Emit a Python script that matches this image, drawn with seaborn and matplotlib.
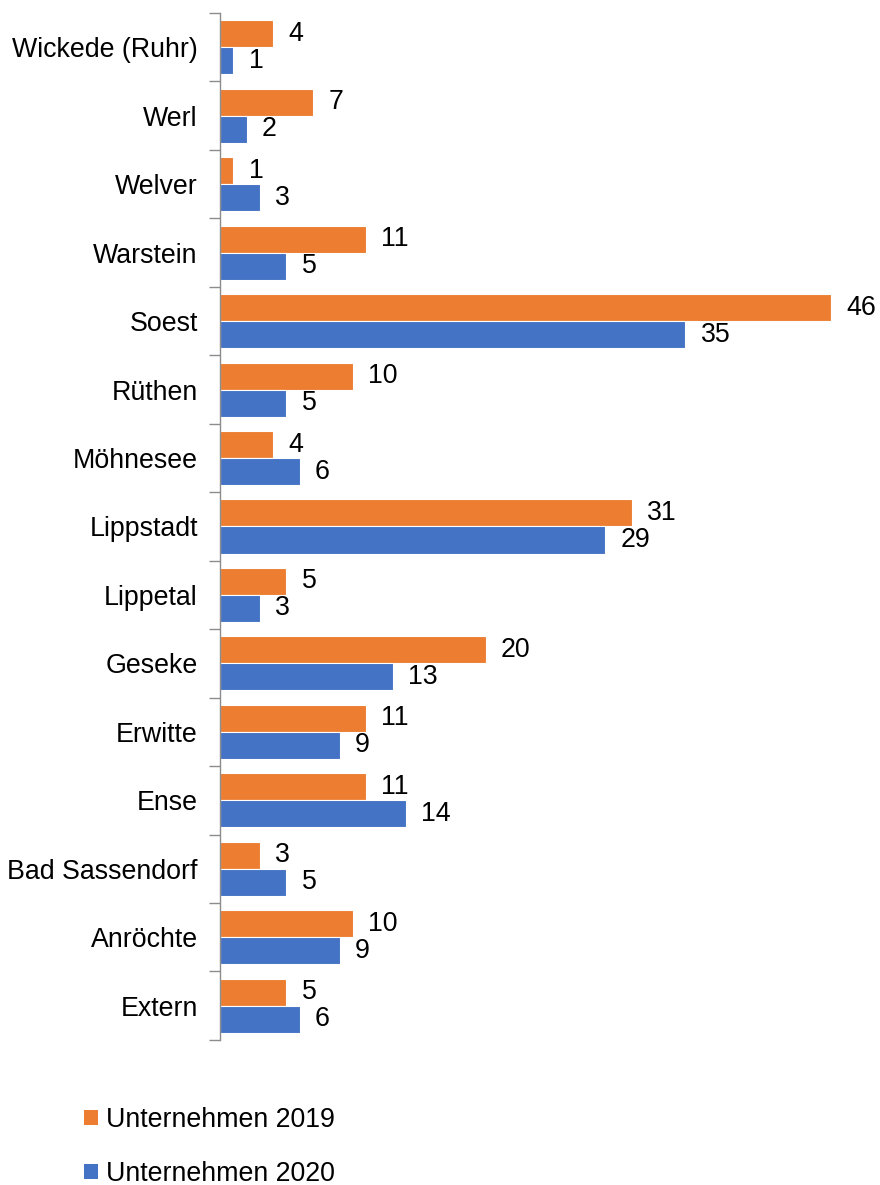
import numpy as np
import pandas as pd
import matplotlib
matplotlib.use("Agg")
import matplotlib.pyplot as plt
import seaborn as sns
from matplotlib.patches import Patch
from matplotlib.ticker import FixedLocator

orte = ["Wickede (Ruhr)", "Werl", "Welver", "Warstein", "Soest", "Rüthen",
        "Möhnesee", "Lippstadt", "Lippetal", "Geseke", "Erwitte", "Ense",
        "Bad Sassendorf", "Anröchte", "Extern"]
unternehmen_2019 = [4, 7, 1, 11, 46, 10, 4, 31, 5, 20, 11, 11, 3, 10, 5]
unternehmen_2020 = [1, 2, 3, 5, 35, 5, 6, 29, 3, 13, 9, 14, 5, 9, 6]
reihen = ["Unternehmen 2019", "Unternehmen 2020"]
farben = ["#ED7D31", "#4472C4"]

df = pd.DataFrame({
    "Ort": orte * 2,
    "Anzahl": unternehmen_2019 + unternehmen_2020,
    "Reihe": [reihen[0]] * len(orte) + [reihen[1]] * len(orte),
})

sns.set_theme(style="white")
plt.rcParams["font.family"] = ["Liberation Sans", "DejaVu Sans"]
fs = 19.3

fig = plt.figure(figsize=(8.8, 11.85), dpi=100)
ax = fig.add_axes([0.25, 0.1224, 0.725, 0.8666])

sns.barplot(data=df, y="Ort", x="Anzahl", hue="Reihe", order=orte,
            hue_order=reihen, palette=farben, orient="h", width=0.79,
            edgecolor="white", linewidth=0.8, saturation=1, ax=ax,
            legend=False)

for cont in ax.containers:
    ax.bar_label(cont, fmt="%d", padding=11, fontsize=fs, color="black")

ax.set_xlim(0, 48)
ax.set_ylim(len(orte) - 0.5, -0.5)
ax.set_xlabel("")
ax.set_ylabel("")
ax.set_xticks([])

for s in ["top", "right", "bottom"]:
    ax.spines[s].set_visible(False)
ax.spines["left"].set_color("#8c8c8c")
ax.spines["left"].set_linewidth(1.0)

ax.tick_params(axis="y", which="major", length=0, pad=16, labelsize=fs,
               labelcolor="black")
ax.yaxis.set_minor_locator(FixedLocator(np.arange(-0.5, len(orte), 1.0)))
ax.tick_params(axis="y", which="minor", length=8, width=1.0,
               color="#8c8c8c", left=True)

handles = [Patch(facecolor=c, edgecolor="none", label=l)
           for c, l in zip(farben, reihen)]
fig.legend(handles=handles, loc="upper left", bbox_to_anchor=(0.096, 0.066),
           frameon=False, fontsize=fs, handlelength=0.5, handleheight=0.5,
           handletextpad=0.3, labelspacing=1.05, borderaxespad=0,
           borderpad=0, labelcolor="black")

fig.savefig("out.png", dpi=100)
